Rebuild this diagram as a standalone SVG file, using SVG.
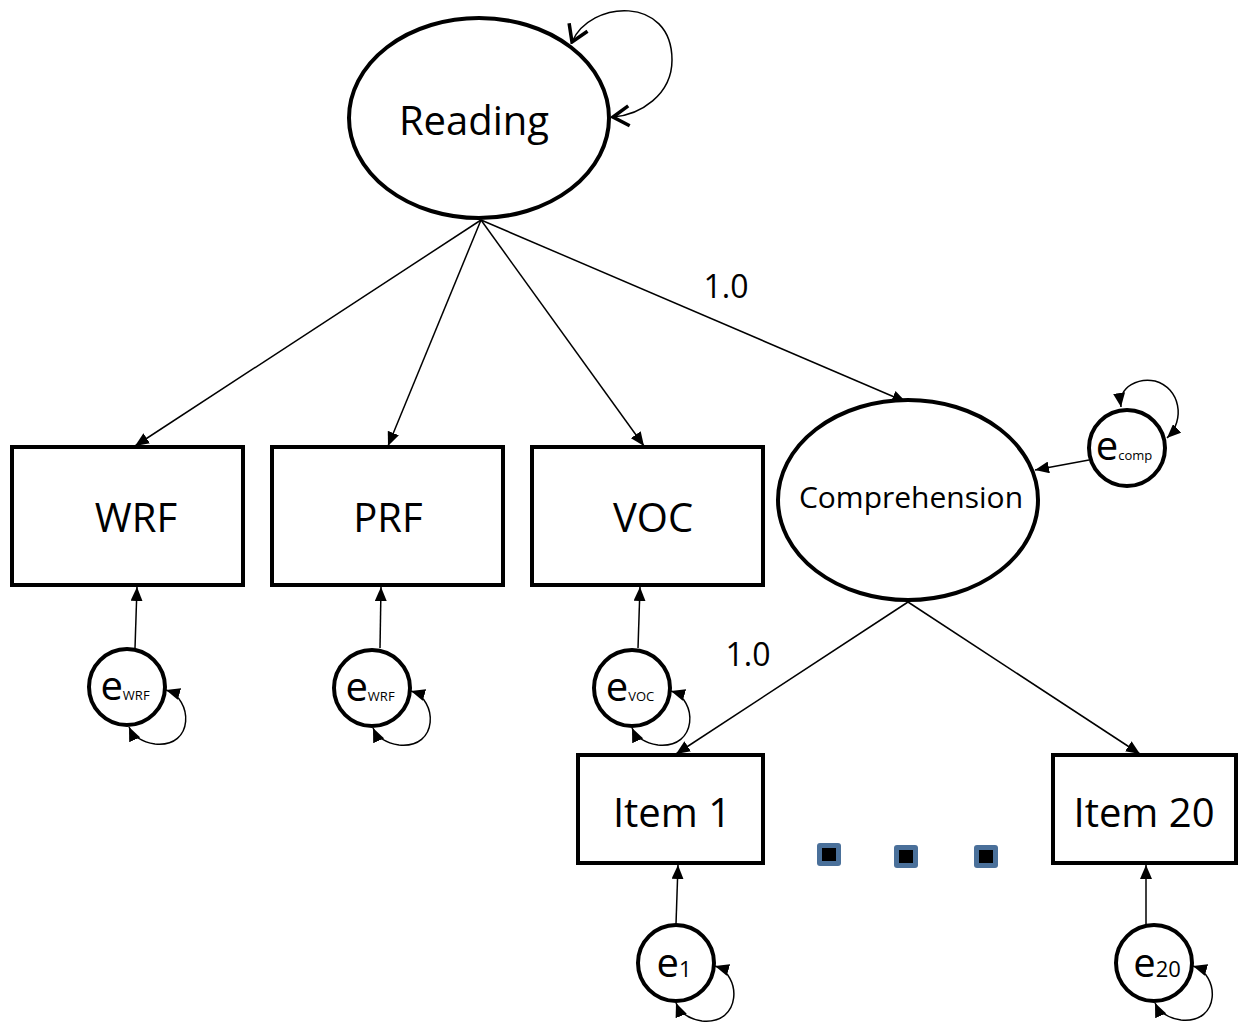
<svg xmlns="http://www.w3.org/2000/svg" width="1238" height="1022" viewBox="0 0 1238 1022">
<style>
.node{fill:#fff;stroke:#000;stroke-width:4}
.lbl{font-family:"Open Sans","Liberation Sans",sans-serif;fill:#000;text-anchor:middle}
.con{fill:none;stroke:#000;stroke-width:1.5}
.loop{fill:none;stroke:#000;stroke-width:1.5}
.dotout{fill:#4a709a}
.dotin{fill:#000}
</style>
<defs>
<marker id="arr" viewBox="0 0 14 12" refX="14" refY="6" markerWidth="14" markerHeight="12" markerUnits="userSpaceOnUse" orient="auto-start-reverse">
<path d="M0,0 L14,6 L0,12 z" fill="#000"/>
</marker>
<marker id="open" viewBox="0 0 20 24" refX="18" refY="12" markerWidth="20" markerHeight="24" markerUnits="userSpaceOnUse" orient="auto-start-reverse">
<path d="M2,2 L18,12 L2,22" fill="none" stroke="#000" stroke-width="3.5"/>
</marker>
</defs>
<g id="connectors">
<path class="loop" d="M572,42 C590,0 672,-5 672,60 C672,95 640,115 613,117" stroke-width="2" marker-start="url(#open)" marker-end="url(#open)"/>
<line class="con" x1="481" y1="220" x2="135" y2="446" marker-end="url(#arr)"/>
<line class="con" x1="481" y1="220" x2="388" y2="446" marker-end="url(#arr)"/>
<line class="con" x1="481" y1="220" x2="644" y2="446" marker-end="url(#arr)"/>
<line class="con" x1="481" y1="220" x2="906" y2="402" marker-end="url(#arr)"/>
<line class="con" x1="908" y1="602" x2="676" y2="754" marker-end="url(#arr)"/>
<line class="con" x1="908" y1="602" x2="1140" y2="754" marker-end="url(#arr)"/>
<line class="con" x1="1089" y1="460" x2="1035" y2="470" marker-end="url(#arr)"/>
<path class="loop" d="M1121,407 C1118,385 1140,378 1155,381 C1180,388 1186,420 1167,438" marker-start="url(#arr)" marker-end="url(#arr)"/>
<line class="con" x1="135" y1="648" x2="137" y2="587" marker-end="url(#arr)"/>
<line class="con" x1="380" y1="648" x2="381" y2="587" marker-end="url(#arr)"/>
<line class="con" x1="638" y1="648" x2="640" y2="587" marker-end="url(#arr)"/>
<line class="con" x1="676" y1="924" x2="678" y2="865" marker-end="url(#arr)"/>
<line class="con" x1="1146" y1="925" x2="1146" y2="865" marker-end="url(#arr)"/>
<path class="loop" d="M166,690 C193,698 195,748 155,744 C142,742 133,736 129,727" marker-start="url(#arr)" marker-end="url(#arr)"/>
<path class="loop" d="M411,691 C438,699 439,749 399,745 C386,743 377,737 373,728" marker-start="url(#arr)" marker-end="url(#arr)"/>
<path class="loop" d="M671,691 C698,699 698,749 658,745 C645,743 636,737 632,728" marker-start="url(#arr)" marker-end="url(#arr)"/>
<path class="loop" d="M715,966 C742,974 742,1025 702,1021 C689,1019 680,1013 676,1003" marker-start="url(#arr)" marker-end="url(#arr)"/>
<path class="loop" d="M1193,966 C1220,974 1221,1024 1181,1020 C1168,1018 1159,1012 1155,1003" marker-start="url(#arr)" marker-end="url(#arr)"/>
</g>
<g id="reading"><ellipse class="node" cx="479" cy="118" rx="130" ry="100"/><text class="lbl" x="474" y="135" font-size="40">Reading</text></g>
<g id="comprehension"><ellipse class="node" cx="908" cy="500" rx="130" ry="100"/><text class="lbl" x="911" y="508" font-size="30">Comprehension</text></g>
<g id="wrf"><rect class="node" x="12" y="447" width="231" height="138"/><text class="lbl" x="136" y="532" font-size="40">WRF</text></g>
<g id="prf"><rect class="node" x="272" y="447" width="231" height="138"/><text class="lbl" x="388" y="532" font-size="40">PRF</text></g>
<g id="voc"><rect class="node" x="532" y="447" width="231" height="138"/><text class="lbl" x="653" y="532" font-size="40">VOC</text></g>
<g id="item1"><rect class="node" x="578" y="755" width="185" height="108"/><text class="lbl" x="672" y="827" font-size="40">Item 1</text></g>
<g id="item20"><rect class="node" x="1053" y="755" width="183" height="108"/><text class="lbl" x="1144" y="827" font-size="40">Item 20</text></g>
<g id="ecomp"><circle class="node" cx="1127" cy="448" r="38"/><text class="lbl" x="1124" y="460" font-size="40">e<tspan font-size="13">comp</tspan></text></g>
<g id="ewrf1"><circle class="node" cx="127" cy="687" r="38"/><text class="lbl" x="125" y="700" font-size="40">e<tspan font-size="13">WRF</tspan></text></g>
<g id="ewrf2"><circle class="node" cx="372" cy="688" r="38"/><text class="lbl" x="370" y="701" font-size="40">e<tspan font-size="13">WRF</tspan></text></g>
<g id="evoc"><circle class="node" cx="632" cy="688" r="38"/><text class="lbl" x="630" y="701" font-size="40">e<tspan font-size="13">VOC</tspan></text></g>
<g id="e1"><circle class="node" cx="676" cy="963" r="38"/><text class="lbl" x="674" y="977" font-size="40">e<tspan font-size="22">1</tspan></text></g>
<g id="e20"><circle class="node" cx="1154" cy="963" r="38"/><text class="lbl" x="1157" y="977" font-size="40">e<tspan font-size="22">20</tspan></text></g>
<g id="labels">
<text class="lbl" x="726" y="298" font-size="32">1.0</text>
<text class="lbl" x="748" y="666" font-size="32">1.0</text>
</g>
<g id="dots">
<rect class="dotout" x="817" y="843" width="24" height="23" rx="3"/><rect class="dotin" x="822" y="848" width="14" height="13"/>
<rect class="dotout" x="894" y="845" width="24" height="23" rx="3"/><rect class="dotin" x="899" y="850" width="14" height="13"/>
<rect class="dotout" x="974" y="845" width="24" height="23" rx="3"/><rect class="dotin" x="979" y="850" width="14" height="13"/>
</g>
</svg>
